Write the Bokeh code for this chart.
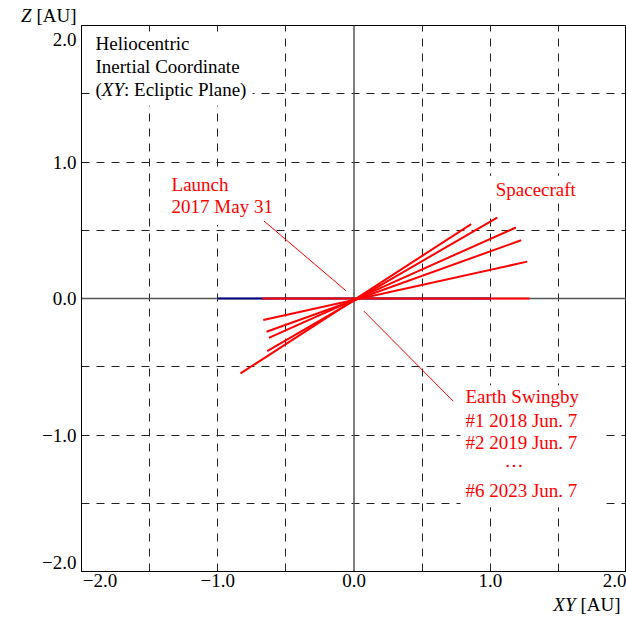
from bokeh.plotting import figure
from bokeh.models import Range1d, FixedTicker, Span, Label, BoxAnnotation
from bokeh.embed import file_html
from bokeh.resources import INLINE

# ---- data (AU) ----
orbit_upper_xy = [0.860, 1.051, 1.188, 1.227, 1.271, 1.288]
orbit_upper_z = [0.545, 0.593, 0.520, 0.427, 0.270, 0.0]
orbit_lower_xy = [-0.833, -0.637, -0.625, -0.642, -0.666, -0.672]
orbit_lower_z = [-0.549, -0.385, -0.288, -0.244, -0.158, 0.0]
earth_xy = [-1.0, 1.0]
earth_z = [0.0, 0.0]
launch_ptr_xy = [-0.662, -0.057]
launch_ptr_z = [0.569, 0.055]
swing_ptr_xy = [0.072, 0.728]
swing_ptr_z = [-0.092, -0.752]
tick_values = [-2, -1, 0, 1, 2]
tick_labels = ["\u22122.0", "\u22121.0", "0.0", "1.0", "2.0"]
grid_ticks = [-1.5, -1.0, -0.5, 0.5, 1.0, 1.5]

# layout: the end labels of each axis are set inward of the frame corner (as in the reference)
X_END_SHIFT = (0.136, -0.088)   # (left end, right end) in AU
Y_END_SHIFT = (0.066, -0.103)   # (bottom end, top end) in AU

FONT = "Liberation Serif"
FS = "19px"

p = figure(width=626, height=617, output_backend="svg", toolbar_location=None,
           x_range=Range1d(-2, 2), y_range=Range1d(-2, 2),
           min_border_left=81, min_border_right=0, min_border_top=25, min_border_bottom=46)
p.background_fill_color = "white"
p.border_fill_color = "white"
p.outline_line_color = "black"
p.outline_line_width = 1


def label_positions(shift):
    pos = list(tick_values)
    pos[0] = tick_values[0] + shift[0]
    pos[-1] = tick_values[-1] + shift[1]
    return pos


for ax, shift in ((p.xaxis[0], X_END_SHIFT), (p.yaxis[0], Y_END_SHIFT)):
    pos = label_positions(shift)
    ax.ticker = FixedTicker(ticks=pos)
    ax.major_label_overrides = {v: t for v, t in zip(pos, tick_labels)}
    ax.major_tick_line_color = None
    ax.minor_tick_line_color = None
    ax.major_tick_out = 0
    ax.major_tick_in = 0
    ax.axis_line_color = "black"
    ax.axis_line_width = 1
    ax.major_label_text_font = FONT
    ax.major_label_text_font_size = FS
    ax.major_label_text_color = "black"
p.yaxis[0].major_label_standoff = 5
p.xaxis[0].major_label_standoff = 2

for g in (p.xgrid[0], p.ygrid[0]):
    g.ticker = FixedTicker(ticks=grid_ticks)
    g.grid_line_color = "#222222"
    g.grid_line_width = 1
    g.grid_line_dash = "8 7"

for dim in ("width", "height"):
    p.add_layout(Span(location=0, dimension=dim, line_color="#555555", line_width=1.5, level="underlay"))

# white boxes behind the text blocks (hide the grid there)
for (l, r, b, t) in [(-1.927, -0.745, 1.413, 1.941),
                     (-1.383, -0.554, 0.539, 0.921),
                     (0.994, 1.684, 0.701, 0.899),
                     (0.782, 1.831, -1.530, -0.635)]:
    p.add_layout(BoxAnnotation(left=l, right=r, bottom=b, top=t, fill_color="white", fill_alpha=1.0,
                               line_color=None, level="underlay"))

# Earth orbit and spacecraft orbits
p.line(earth_xy, earth_z, line_color="navy", line_width=2)
p.segment(x0=orbit_lower_xy, y0=orbit_lower_z, x1=orbit_upper_xy, y1=orbit_upper_z,
          line_color="red", line_width=2)
# leader lines
p.line(launch_ptr_xy, launch_ptr_z, line_color="red", line_width=1)
p.line(swing_ptr_xy, swing_ptr_z, line_color="red", line_width=1)


def lab(x, y, text, color="black", italic=False, align="left", xo=0, yo=0, place="center"):
    lbl = Label(x=x, y=y, text=text, text_font=FONT, text_font_size=FS, text_color=color,
                text_font_style="italic" if italic else "normal",
                text_align=align, text_baseline="alphabetic", x_offset=xo, y_offset=yo)
    p.add_layout(lbl, place)

# axis titles (drawn outside the frame, so they live in the side panels)
lab(-2, 2, "[AU]", align="right", xo=-5, yo=10, place="above")
lab(-2, 2, "Z", italic=True, align="right", xo=-50, yo=10, place="left")
lab(2, -2, "[AU]", align="right", xo=-6, yo=-33, place="below")
lab(2, -2, "XY", italic=True, align="right", xo=-51, yo=-33, place="left")

# coordinate note
lab(-1.897, 1.865, "Heliocentric")
lab(-1.897, 1.699, "Inertial Coordinate")
lab(-1.897, 1.534, "(")
lab(-1.851, 1.534, "XY", italic=True)
lab(-1.688, 1.534, ": Ecliptic Plane)")

# red annotations
lab(-1.339, 0.833, "Launch", color="red")
lab(-1.339, 0.672, "2017 May 31", color="red")
lab(1.040, 0.796, "Spacecraft", color="red")
lab(0.818, -0.715, "Earth Swingby", color="red")
lab(0.818, -0.891, "#1 2018 Jun. 7", color="red")
lab(0.818, -1.053, "#2 2019 Jun. 7", color="red")
lab(1.105, -1.185, "\u2026", color="red")
lab(0.818, -1.405, "#6 2023 Jun. 7", color="red")

open("out.html", "w").write(file_html(p, INLINE))
